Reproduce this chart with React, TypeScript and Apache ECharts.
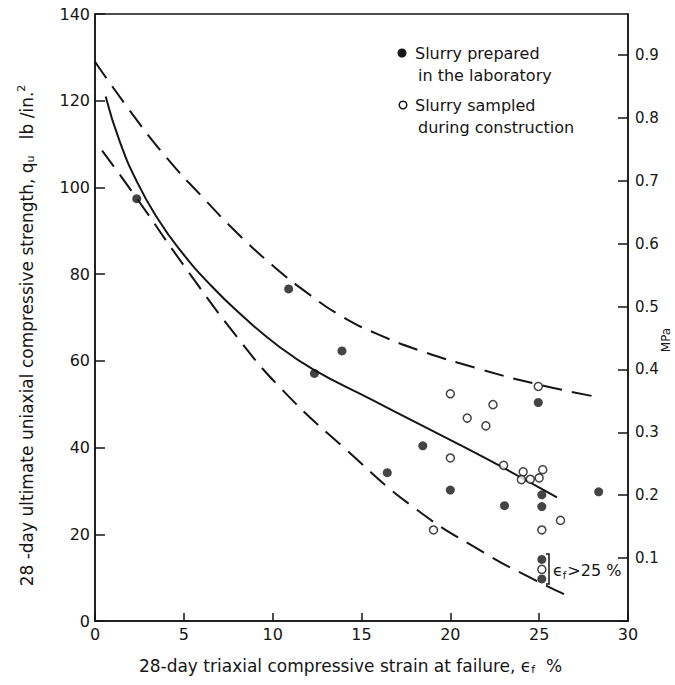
import React, { useEffect, useRef } from "react";
import * as echarts from "echarts";

// ---------------- data ----------------
const PSI_PER_MPA = 145.038;

// Slurry prepared in the laboratory (filled dots): [strain %, qu lb/in.^2]
const labPoints: [number, number][] = [
  [2.35, 97.4],
  [10.9, 76.6],
  [13.9, 62.3],
  [12.35, 57.1],
  [16.45, 34.2],
  [18.45, 40.4],
  [20.0, 30.2],
  [23.05, 26.6],
  [24.95, 50.4],
  [25.15, 29.1],
  [25.15, 26.4],
  [28.35, 29.8],
  [25.15, 14.2],
  [25.15, 9.7],
];

// Slurry sampled during construction (open circles)
const fieldPoints: [number, number][] = [
  [20.0, 52.4],
  [24.95, 54.1],
  [22.4, 49.9],
  [20.95, 46.8],
  [22.0, 45.0],
  [20.0, 37.6],
  [23.0, 35.9],
  [24.1, 34.4],
  [25.2, 34.9],
  [24.0, 32.6],
  [24.5, 32.7],
  [25.0, 33.0],
  [26.2, 23.2],
  [25.15, 21.0],
  [19.05, 21.0],
  [25.15, 11.9],
];

// Envelope and mean curves
const upperBound: [number, number][] = [
  [0.0, 129],
  [2.0, 117.5],
  [4.0, 107],
  [6.0, 98],
  [8.0, 89.5],
  [10.0, 82],
  [12.0, 75.5],
  [14.0, 70],
  [16.0, 66],
  [18.2, 62.5],
  [21.5, 58.3],
  [25.0, 54.5],
  [28.5, 51.5],
];

const meanCurve: [number, number][] = [
  [0.6, 121],
  [1.4, 110.5],
  [2.4, 101],
  [3.5, 93],
  [4.7, 86],
  [6.5, 77.5],
  [8.4, 70],
  [10.3, 63.5],
  [12.3, 58],
  [15.6, 51],
  [18.2, 45.5],
  [22.0, 37.5],
  [26.0, 28.5],
];

const lowerBound: [number, number][] = [
  [0.4, 108.5],
  [2.35, 97.5],
  [5.0, 82],
  [8.0, 65.5],
  [10.5, 53.5],
  [14.0, 40],
  [18.0, 26],
  [22.0, 15.5],
  [24.5, 10],
  [26.5, 6],
];

const xMin = 0;
const xMax = 30;
const xStep = 5;
const yMin = 0;
const yMax = 140;
const yStep = 20;
const mpaStep = 0.1;

const FONT = "DejaVu Sans";
const INK = "#151515";

export default function App() {
  const ref = useRef<HTMLDivElement>(null);

  useEffect(() => {
    if (!ref.current) return;
    const chart = echarts.init(ref.current, null, { renderer: "svg" });

    const curveSeries = (data: [number, number][], dashed: boolean) => ({
      type: "line",
      data,
      smooth: 0.5,
      showSymbol: false,
      silent: true,
      yAxisIndex: 0,
      lineStyle: {
        color: INK,
        width: 2,
        type: dashed ? [20, 10] : "solid",
      },
      z: 2,
    });

    chart.setOption({
      animation: false,
      backgroundColor: "#fff",
      grid: {
        left: 95,
        right: 47,
        top: 14,
        bottom: 64,
        outerBoundsMode: "none",
        containLabel: false,
        show: true,
        borderColor: INK,
        borderWidth: 1.5,
        backgroundColor: "transparent",
      },
      xAxis: {
        type: "value",
        min: xMin,
        max: xMax,
        interval: xStep,
        axisLine: { onZero: false, lineStyle: { color: INK, width: 1.5 } },
        axisTick: { inside: true, length: 8, lineStyle: { color: INK, width: 1.5 } },
        axisLabel: { color: INK, fontSize: 16, fontFamily: FONT, margin: 5 },
        splitLine: { show: false },
        name: "{a|28-day triaxial compressive strain at failure, ϵ}{s|f}{a|  %}",
        nameLocation: "middle",
        nameGap: 35,
        nameTextStyle: {
          color: INK,
          fontFamily: FONT,
          fontSize: 17,
          padding: [0, 22, 0, 0],
          rich: {
            a: { fontSize: 17, fontFamily: FONT, color: INK },
            s: { fontSize: 11, fontFamily: FONT, color: INK, padding: [8, 0, 0, 0] },
          },
        },
      },
      yAxis: [
        {
          type: "value",
          min: yMin,
          max: yMax,
          interval: yStep,
          position: "left",
          axisLine: { onZero: false, lineStyle: { color: INK, width: 1.5 } },
          axisTick: { inside: true, length: 10, lineStyle: { color: INK, width: 1.5 } },
          axisLabel: { color: INK, fontSize: 16, fontFamily: FONT, margin: 5 },
          splitLine: { show: false },
          name:
            "{a|28 -day ultimate uniaxial compressive strength, q}{s|u}{a|   lb /in.}{p|2}",
          nameLocation: "middle",
          nameGap: 58,
          nameTextStyle: {
            color: INK,
            fontFamily: FONT,
            fontSize: 17,
            padding: [0, 36, 0, 0],
            rich: {
              a: { fontSize: 17, fontFamily: FONT, color: INK },
              s: { fontSize: 11, fontFamily: FONT, color: INK, padding: [8, 0, 0, 0] },
              p: { fontSize: 11, fontFamily: FONT, color: INK, padding: [0, 0, 10, 0] },
            },
          },
        },
        {
          type: "value",
          min: 0,
          max: yMax / PSI_PER_MPA,
          interval: mpaStep,
          position: "right",
          axisLine: { show: true, onZero: false, lineStyle: { color: INK, width: 1.5 } },
          axisTick: { inside: true, length: 10, lineStyle: { color: INK, width: 1.5 } },
          axisLabel: {
            color: INK,
            fontSize: 15,
            fontFamily: FONT,
            margin: 7,
            showMaxLabel: false,
            formatter: (v: number) => {
              const r = Math.round(v * 10) / 10;
              if (v <= 0 || Math.abs(v - r) > 1e-6) return "";
              return r.toFixed(1);
            },
          },
          splitLine: { show: false },
        },
      ],
      series: [
        curveSeries(upperBound, true),
        curveSeries(meanCurve, false),
        curveSeries(lowerBound, true),
        {
          name: "Slurry prepared in the laboratory",
          type: "scatter",
          data: labPoints,
          symbol: "circle",
          symbolSize: 9,
          itemStyle: { color: INK },
          z: 4,
        },
        {
          name: "Slurry sampled during construction",
          type: "scatter",
          data: fieldPoints,
          symbol: "circle",
          symbolSize: 8,
          itemStyle: { color: "#fff", borderColor: INK, borderWidth: 1.5 },
          z: 4,
        },
      ],
      graphic: [
        // right axis unit
        {
          type: "text",
          x: 666,
          y: 340,
          rotation: Math.PI / 2,
          style: {
            text: "MPa",
            fontSize: 12,
            fontFamily: FONT,
            fill: INK,
            align: "center",
            verticalAlign: "middle",
          },
        },
        // legend
        { type: "circle", shape: { cx: 402, cy: 53, r: 4.5 }, style: { fill: INK } },
        {
          type: "text",
          x: 415,
          y: 53,
          style: { text: "Slurry prepared", fontSize: 16, fontFamily: FONT, fill: INK, verticalAlign: "middle" },
        },
        {
          type: "text",
          x: 418,
          y: 75,
          style: { text: "in the laboratory", fontSize: 16, fontFamily: FONT, fill: INK, verticalAlign: "middle" },
        },
        {
          type: "circle",
          shape: { cx: 403, cy: 105, r: 3.8 },
          style: { fill: "#fff", stroke: INK, lineWidth: 1.5 },
        },
        {
          type: "text",
          x: 415,
          y: 105,
          style: { text: "Slurry sampled", fontSize: 16, fontFamily: FONT, fill: INK, verticalAlign: "middle" },
        },
        {
          type: "text",
          x: 418,
          y: 127,
          style: { text: "during construction", fontSize: 16, fontFamily: FONT, fill: INK, verticalAlign: "middle" },
        },
        // annotation bracket for strain > 25 %
        {
          type: "polyline",
          shape: { points: [[546, 554], [549, 554], [549, 584], [546, 584]] },
          style: { stroke: INK, lineWidth: 1.5, fill: "none" },
        },
        {
          type: "text",
          x: 553,
          y: 570,
          style: {
            text: "{e|ϵ}{s|f}{t|>25 %}",
            fill: INK,
            verticalAlign: "middle",
            rich: {
              e: { fontSize: 16, fontFamily: FONT, fill: INK },
              s: { fontSize: 10, fontFamily: FONT, fill: INK, padding: [10, 1, 0, 0] },
              t: { fontSize: 16, fontFamily: FONT, fill: INK },
            },
          },
        },
      ],
    });

    return () => chart.dispose();
  }, []);

  return (
    <div
      ref={ref}
      style={{ position: "fixed", left: 0, top: 0, width: 675, height: 685, background: "#fff" }}
    />
  );
}
